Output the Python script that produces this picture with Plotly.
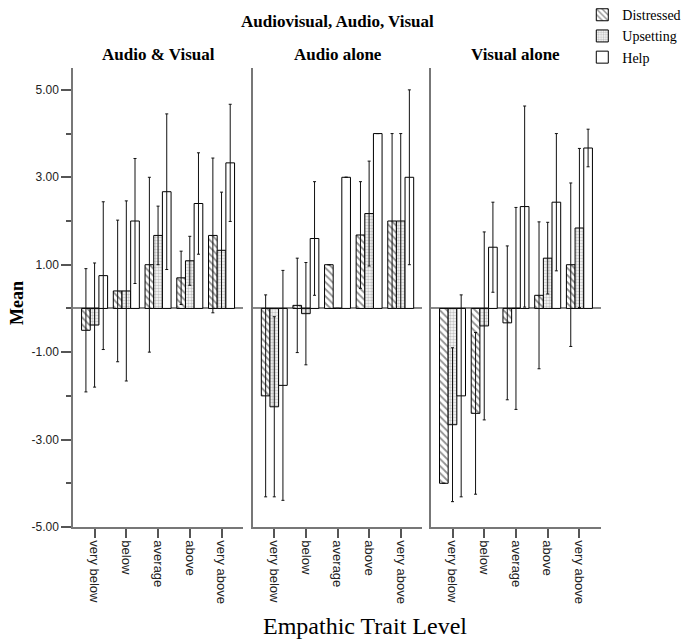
import plotly.graph_objects as go
from plotly.subplots import make_subplots

levels = ["very below", "below", "average", "above", "very above"]
panel_titles = ["Audio & Visual", "Audio alone", "Visual alone"]
series_names = ["Distressed", "Upsetting", "Help"]

# Audio & Visual
av_distressed = [-0.50, 0.40, 1.00, 0.70, 1.67]
av_distressed_err = [1.41, 1.62, 2.00, 0.61, 1.77]
av_upsetting = [-0.38, 0.40, 1.67, 1.09, 1.33]
av_upsetting_err = [1.42, 2.06, 0.67, 0.56, 1.33]
av_help = [0.75, 2.00, 2.67, 2.40, 3.33]
av_help_err = [1.69, 1.43, 1.78, 1.16, 1.34]

# Audio alone
a_distressed = [-2.00, 0.07, 1.00, 1.68, 2.00]
a_distressed_err = [2.31, 1.08, None, 1.22, 2.00]
a_upsetting = [-2.25, -0.12, 0.00, 2.17, 2.00]
a_upsetting_err = [2.06, 1.17, None, 1.20, 2.00]
a_help = [-1.76, 1.60, 3.00, 4.00, 3.00]
a_help_err = [2.63, 1.30, None, 0.00, 2.00]

# Visual alone
v_distressed = [-4.00, -2.40, -0.33, 0.30, 1.00]
v_distressed_err = [None, 1.85, 1.76, 1.68, 1.87]
v_upsetting = [-2.66, -0.40, 0.00, 1.15, 1.84]
v_upsetting_err = [1.76, 2.15, 2.31, 0.82, 1.82]
v_help = [-2.00, 1.40, 2.33, 2.43, 3.67]
v_help_err = [2.31, 1.03, 2.30, 1.57, 0.43]

y_ticks = [5, 3, 1, -1, -3, -5]

panels = [
    [(av_distressed, av_distressed_err), (av_upsetting, av_upsetting_err), (av_help, av_help_err)],
    [(a_distressed, a_distressed_err), (a_upsetting, a_upsetting_err), (a_help, a_help_err)],
    [(v_distressed, v_distressed_err), (v_upsetting, v_upsetting_err), (v_help, v_help_err)],
]

patterns = [
    dict(shape="\\", fgcolor="#222222", bgcolor="white", size=5, solidity=0.35),
    dict(shape=".", fgcolor="#888888", bgcolor="white", size=3, solidity=0.5),
    dict(shape="", bgcolor="white"),
]

SERIF = "Liberation Serif"
SANS = "Liberation Sans"

fig = make_subplots(rows=1, cols=3, shared_yaxes=True, horizontal_spacing=0.018)

for p, series in enumerate(panels):
    for s, (vals, errs) in enumerate(series):
        fig.add_trace(
            go.Bar(
                x=levels,
                y=vals,
                name=series_names[s],
                legendgroup=series_names[s],
                showlegend=(p == 0),
                marker=dict(color="white", line=dict(color="black", width=1), pattern=patterns[s]),
                error_y=dict(type="data", array=errs, visible=True, color="#111111", thickness=1, width=1.5),
            ),
            row=1, col=p + 1,
        )

doms = [[0.0, 0.3222], [0.3405, 0.6614], [0.6779, 1.0]]
for i in range(3):
    xa = "xaxis" if i == 0 else f"xaxis{i+1}"
    fig.layout[xa].update(
        domain=doms[i], range=[-0.68, 4.68], showline=True, linecolor="#777777", linewidth=1.5,
        ticks="outside", ticklen=9, tickcolor="#555555", tickwidth=1.5, tickangle=90,
        tickfont=dict(family=SANS, size=13, color="#222222"), showgrid=False, zeroline=False,
        automargin=False,
    )
    ya = "yaxis" if i == 0 else f"yaxis{i+1}"
    fig.layout[ya].update(
        range=[-5, 5.5], showline=True, linecolor="#777777", linewidth=1.5,
        zeroline=True, zerolinecolor="#888888", zerolinewidth=2, showgrid=False,
        automargin=False,
    )

fig.update_yaxes(
    tickmode="array", tickvals=y_ticks, ticktext=[f"{v:.2f}" for v in y_ticks],
    ticks="outside", ticklen=10, tickcolor="#555555", tickwidth=1.5,
    tickfont=dict(family=SANS, size=12, color="#222222"),
    minor=dict(dtick=1, tick0=0, ticks="outside", ticklen=5, tickcolor="#555555", tickwidth=1.5),
    row=1, col=1,
)
for c in (2, 3):
    fig.update_yaxes(ticks="", showticklabels=False, row=1, col=c)

fig.update_layout(
    width=683, height=641,
    margin=dict(l=73, r=82, t=68, b=114, autoexpand=False),
    plot_bgcolor="white", paper_bgcolor="white",
    barmode="group", bargap=0.18, bargroupgap=0,
    legend=dict(x=(582 - 73) / 527.7, y=1.15, xanchor="left", yanchor="top", tracegroupgap=0,
                font=dict(family=SERIF, size=14, color="black"), bgcolor="rgba(0,0,0,0)",
                itemwidth=30, borderwidth=0),
    font=dict(family=SERIF, color="black"),
)

annots = [
    dict(text="<b>Audiovisual, Audio, Visual</b>", x=337, y=21, font=dict(size=17)),
    dict(text="<b>Mean</b>", x=17, y=303, font=dict(size=18), textangle=-90),
    dict(text="Empathic Trait Level", x=365, y=626, font=dict(size=24)),
]
for i, t in enumerate(panel_titles):
    cx = 73 + (doms[i][0] + doms[i][1]) / 2 * 527.7
    annots.append(dict(text=f"<b>{t}</b>", x=cx, y=54, font=dict(size=17)))

for a in annots:
    fig.add_annotation(
        text=a["text"], xref="paper", yref="paper",
        x=(a["x"] - 73) / 527.7, y=(527 - a["y"]) / 459,
        showarrow=False, xanchor="center", yanchor="middle",
        textangle=a.get("textangle", 0),
        font=dict(family=SERIF, color="black", size=a["font"]["size"]),
    )

fig.write_html(
    "out.html",
    config={"displayModeBar": False},
    post_script="document.body.style.margin='0';document.body.style.padding='0';",
)
